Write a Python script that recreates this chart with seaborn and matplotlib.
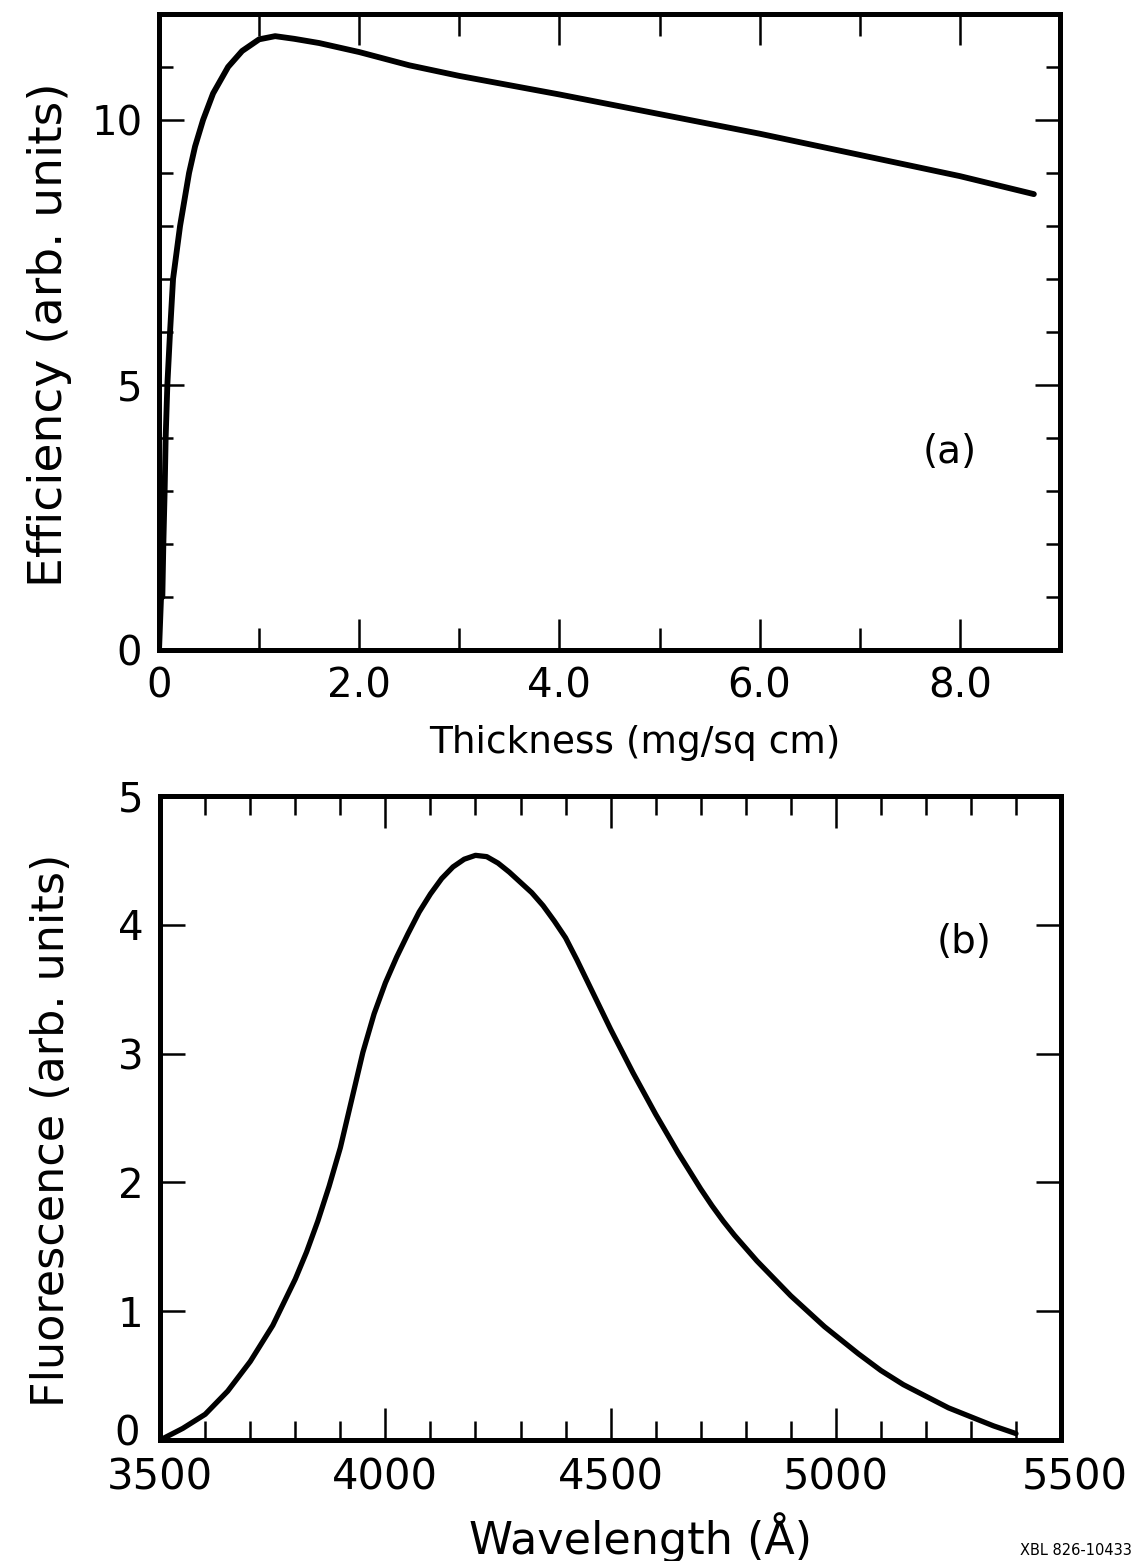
import matplotlib
matplotlib.use("Agg")
import matplotlib.pyplot as plt
import matplotlib.transforms as mtransforms
import seaborn as sns
import pandas as pd
from matplotlib.ticker import MultipleLocator, FixedLocator, FuncFormatter

# ---- data ----
thickness = [0, 0.02, 0.033, 0.043, 0.056, 0.066, 0.083, 0.11, 0.14, 0.21, 0.30,
             0.36, 0.44, 0.54, 0.69, 0.83, 1.0, 1.16, 1.35, 1.6, 2.0, 2.5, 3.0, 4.0, 5.0,
             6.0, 7.0, 8.0, 8.74]
efficiency = [0, 1.0, 1.0, 2.0, 3.0, 4.0, 5.0, 6.0, 7.0, 8.0, 9.0,
              9.5, 10.0, 10.5, 11.0, 11.3, 11.52, 11.58, 11.53, 11.45, 11.28, 11.03, 10.83, 10.48, 10.11,
              9.74, 9.34, 8.94, 8.6]

wavelength = [3500, 3550, 3600, 3650, 3700, 3750, 3800, 3825, 3850, 3875, 3900, 3925, 3950, 3975,
              4000, 4025, 4050, 4075, 4100, 4125, 4150, 4175, 4200, 4225, 4250, 4275,
              4300, 4325, 4350, 4375, 4400, 4425, 4450, 4475, 4500, 4525, 4550, 4575,
              4600, 4625, 4650, 4675, 4700, 4725, 4750, 4775, 4800, 4825, 4850, 4875,
              4900, 4925, 4950, 4975, 5000, 5050, 5100, 5150, 5200, 5250, 5300, 5350, 5400]
fluorescence = [0.0, 0.09, 0.20, 0.38, 0.61, 0.89, 1.25, 1.46, 1.70, 1.97, 2.27, 2.64, 3.01, 3.31,
                3.55, 3.75, 3.93, 4.10, 4.24, 4.36, 4.45, 4.51, 4.54, 4.53, 4.48, 4.41,
                4.33, 4.25, 4.15, 4.03, 3.90, 3.73, 3.55, 3.37, 3.19, 3.02, 2.85, 2.69,
                2.53, 2.38, 2.23, 2.09, 1.95, 1.82, 1.70, 1.59, 1.49, 1.39, 1.30, 1.21,
                1.12, 1.04, 0.96, 0.88, 0.81, 0.67, 0.54, 0.43, 0.34, 0.25, 0.18, 0.11, 0.05]

thick_labels = ["0", "2.0", "4.0", "6.0", "8.0"]
eff_labels = ["0", "5", "10"]
wave_labels = ["3500", "4000", "4500", "5000", "5500"]
fluo_labels = ["0", "1", "2", "3", "4", "5"]

sns.set_theme(style="ticks")
plt.rcParams["font.family"] = ["DejaVu Sans"]
for k in ("text.color", "axes.labelcolor", "xtick.color", "ytick.color", "axes.edgecolor"):
    plt.rcParams[k] = "black"

fig = plt.figure(figsize=(11.36, 15.61), dpi=100)
ax1 = fig.add_axes([0.140, 0.5836, 0.793, 0.4075])
ax2 = fig.add_axes([0.141, 0.0775, 0.793, 0.4125])

df1 = pd.DataFrame({"t": thickness, "e": efficiency})
df2 = pd.DataFrame({"w": wavelength, "f": fluorescence})
sns.lineplot(data=df1, x="t", y="e", ax=ax1, color="black", linewidth=4.2, sort=False)
sns.lineplot(data=df2, x="w", y="f", ax=ax2, color="black", linewidth=3.8, sort=False)

for ax in (ax1, ax2):
    for s in ax.spines.values():
        s.set_linewidth(3.6)
        s.set_color("black")
        s.set_visible(True)
    ax.tick_params(which="both", direction="in", top=True, right=True,
                   width=1.8, color="black", labelcolor="black", labelsize=29, pad=12)

# panel (a)
ax1.set_xlim(0, 9)
ax1.set_ylim(0, 12)
ax1.xaxis.set_major_locator(FixedLocator([0, 2, 4, 6, 8]))
ax1.xaxis.set_minor_locator(FixedLocator([1, 3, 5, 7]))
ax1.xaxis.set_major_formatter(FuncFormatter(lambda v, p: thick_labels[p] if p is not None and p < len(thick_labels) else ""))
ax1.yaxis.set_major_locator(FixedLocator([0, 5, 10]))
ax1.yaxis.set_minor_locator(MultipleLocator(1))
ax1.yaxis.set_major_formatter(FuncFormatter(lambda v, p: eff_labels[p] if p is not None and p < len(eff_labels) else ""))
ax1.tick_params(axis="x", which="major", length=22)
ax1.tick_params(axis="x", which="minor", length=16)
ax1.tick_params(axis="y", which="major", length=18)
ax1.tick_params(axis="y", which="minor", length=10)
ax1.set_xlabel("Thickness (mg/sq cm)", fontsize=27)
ax1.xaxis.set_label_coords(0.528, -0.118)
ax1.set_ylabel("Efficiency (arb. units)", fontsize=34)
ax1.yaxis.set_label_coords(-0.097, 0.495)
ax1.text(7.9, 3.74, "(a)", fontsize=28, ha="center", va="center")

# panel (b)
ax2.set_xlim(3500, 5500)
ax2.set_ylim(0, 5)
ax2.xaxis.set_major_locator(FixedLocator([3500, 4000, 4500, 5000, 5500]))
ax2.xaxis.set_minor_locator(MultipleLocator(100))
ax2.xaxis.set_major_formatter(FuncFormatter(lambda v, p: wave_labels[p] if p is not None and p < len(wave_labels) else ""))
ax2.yaxis.set_major_locator(FixedLocator([0, 1, 2, 3, 4, 5]))
ax2.yaxis.set_major_formatter(FuncFormatter(lambda v, p: fluo_labels[p] if p is not None and p < len(fluo_labels) else ""))
ax2.tick_params(axis="x", which="major", length=23, labelsize=30)
ax2.tick_params(axis="x", which="minor", length=14)
ax2.tick_params(axis="y", which="major", length=18)
ax2.set_xlabel("Wavelength (Å)", fontsize=32)
ax2.xaxis.set_label_coords(0.533, -0.112)
ax2.set_ylabel("Fluorescence (arb. units)", fontsize=32)
ax2.yaxis.set_label_coords(-0.097, 0.481)
ax2.text(5284, 3.87, "(b)", fontsize=28, ha="center", va="center")

fig.canvas.draw()
# nudge the bottom "0" label up/left (as in the reference) so it clears "3500"
ylabs = ax2.get_yticklabels()
if ylabs:
    ylabs[0].set_transform(ylabs[0].get_transform() +
                           mtransforms.ScaledTranslation(-4 / 100, 10 / 100, fig.dpi_scale_trans))
xlabs = ax2.get_xticklabels()
if xlabs:
    xlabs[-1].set_transform(xlabs[-1].get_transform() +
                            mtransforms.ScaledTranslation(14 / 100, 0, fig.dpi_scale_trans))

fig.text(0.947, 0.002, "XBL 826-10433", fontsize=10.5, ha="center", va="bottom")

fig.savefig("out.png", dpi=100, facecolor="white")
